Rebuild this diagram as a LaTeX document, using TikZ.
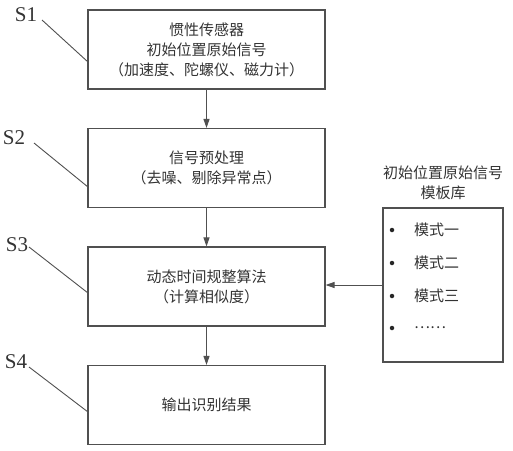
\documentclass[tikz,border=0pt]{standalone}
\usepackage{fontspec}
\setmainfont{Liberation Serif}
\newfontfamily\cjk{Noto Sans CJK SC}
\usetikzlibrary{arrows.meta}
\definecolor{ln}{HTML}{505050}
\definecolor{tx}{HTML}{333333}
\tikzset{
  box/.style={draw=ln, line width=1.1pt, minimum width=237pt, minimum height=79pt, inner sep=0pt, align=center, text=tx, font=\cjk\fontsize{15}{20}\selectfont},
  slab/.style={inner sep=0pt, text=tx, font=\fontsize{21}{21}\selectfont},
  lead/.style={draw=ln, line width=0.9pt},
  arr/.style={draw=ln, line width=1pt, -{Triangle[length=9pt,width=6pt]}},
  itm/.style={inner sep=0pt, anchor=west, text=tx, font=\cjk\fontsize{15}{18}\selectfont},
  dot/.style={circle, fill=black!85, inner sep=0pt, minimum size=4.5pt},
}
\begin{document}
\begin{tikzpicture}[x=1pt, y=-1pt]
\useasboundingbox (0,0) rectangle (513,450);
\node[box] (s1) at (206.5,49.5) {惯性传感器\\初始位置原始信号\\（加速度、陀螺仪、磁力计）};
\node[box] (s2) at (206.5,168) {信号预处理\\（去噪、剔除异常点）};
\node[box] (s3) at (206.5,286.5) {动态时间规整算法\\（计算相似度）};
\node[box] (s4) at (206.5,405) {输出识别结果};
\node[box, minimum width=120pt, minimum height=154pt] (lib) at (443,285) {};
\node[inner sep=0pt, align=center, text=tx, font=\cjk\fontsize{15}{20}\selectfont] (libt) at (443,183) {初始位置原始信号\\模板库};
\node[dot] (d1) at (392,230) {};
\node[dot] (d2) at (392,263) {};
\node[dot] (d3) at (392,296) {};
\node[dot] (d4) at (392,328) {};
\node[itm] (m1) at (414,230) {模式一};
\node[itm] (m2) at (414,263) {模式二};
\node[itm] (m3) at (414,296) {模式三};
\node[itm] (m4) at (414,328) {……};
\draw[arr] (s1.south) -- (s2.north);
\draw[arr] (s2.south) -- (s3.north);
\draw[arr] (s3.south) -- (s4.north);
\draw[arr] (lib.west) -- (lib.west -| s3.east);
\node[slab] (t1) at (26,15) {S1};
\node[slab] (t2) at (14,138) {S2};
\node[slab] (t3) at (17,245) {S3};
\node[slab] (t4) at (16,362) {S4};
\coordinate (a1) at (42,20);
\coordinate (a2) at (34,143);
\coordinate (a3) at (29,247);
\coordinate (a4) at (29,367);
\coordinate (b1) at (88,62);
\coordinate (b2) at (88,187);
\coordinate (b3) at (88,293);
\coordinate (b4) at (88,412);
\draw[lead] (a1) -- (b1);
\draw[lead] (a2) -- (b2);
\draw[lead] (a3) -- (b3);
\draw[lead] (a4) -- (b4);
\end{tikzpicture}
\end{document}
